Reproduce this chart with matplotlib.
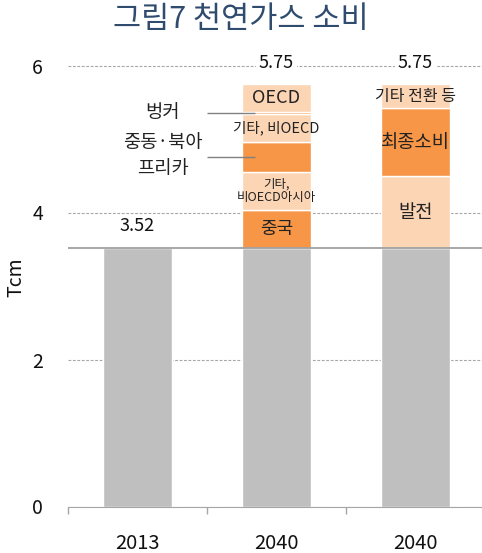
import matplotlib
matplotlib.use("Agg")
import matplotlib.pyplot as plt

plt.rcParams['font.family'] = ['Noto Sans CJK KR', 'DejaVu Sans']

# Natural gas consumption (Tcm)
categories = ["2013", "2040", "2040"]
base_2013 = 3.52

# 2040 increase by region (stacked on the 2013 level)
region_labels = ["중국", "기타,\n비OECD아시아", "", "기타, 비OECD", "", "OECD"]
region_names = ["China", "Other non-OECD Asia", "Middle East & N. Africa",
                "Other non-OECD", "Bunkers", "OECD"]
region_values = [0.52, 0.51, 0.41, 0.38, 0.03, 0.38]

# 2040 increase by sector
sector_labels = ["발전", "최종소비", "기타 전환 등"]
sector_values = [0.97, 0.93, 0.33]

totals = [3.52, 5.75, 5.75]

DARK = "#F79646"
LIGHT = "#FCD5B5"
GRAY = "#BFBFBF"
region_colors = [DARK, LIGHT, DARK, LIGHT, DARK, LIGHT]
sector_colors = [LIGHT, DARK, LIGHT]
region_fs = [13, 9, 12, 10.5, 12, 13]

fig = plt.figure(figsize=(4.82, 5.53), dpi=100)
ax = fig.add_axes([68/482, 46.5/553, 417/482, 441/553])

width = 0.49
x = list(range(len(categories)))

# base level in every column
for xi in x:
    ax.bar(xi, base_2013, width, color=GRAY, edgecolor="white", linewidth=1, zorder=2)

# region stack
bottom = base_2013
for val, col, lab, fs in zip(region_values, region_colors, region_labels, region_fs):
    ax.bar(1, val, width, bottom=bottom, color=col, edgecolor="white", linewidth=1, zorder=2)
    if lab:
        ax.text(1, bottom + val / 2, lab, ha="center", va="center", fontsize=fs,
                color="#222222", zorder=4, linespacing=1.1)
    bottom += val
region_bottoms = [base_2013 + sum(region_values[:i]) for i in range(len(region_values))]

# sector stack
bottom = base_2013
sector_fs = [13.5, 13.5, 11.5]
for val, col, lab, fs in zip(sector_values, sector_colors, sector_labels, sector_fs):
    ax.bar(2, val, width, bottom=bottom, color=col, edgecolor="white", linewidth=1, zorder=2)
    ax.text(2, bottom + val / 2, lab, ha="center", va="center", fontsize=fs,
            color="#222222", zorder=4)
    bottom += val

# totals above the bars
for xi, t in zip(x, totals):
    ax.text(xi, t + 0.29, f"{t:.2f}", ha="center", va="center", fontsize=13,
            color="#111111", zorder=5,
            bbox=dict(boxstyle="square,pad=0.15", fc="white", ec="none"))

# 2013 reference level
ax.axhline(base_2013, color="#A0A0A0", lw=1.3, zorder=3)

# callouts for bunkers and Middle East / North Africa
bunker_y = region_bottoms[4] + region_values[4] / 2
mena_y = region_bottoms[2] + region_values[2] / 2
for yv in (bunker_y, mena_y):
    ax.plot([0.5, 0.845], [yv, yv], color="#808080", lw=1, zorder=4,
            solid_capstyle="butt")
ax.text(0.18, bunker_y, "벙커", ha="center", va="center", fontsize=13.5, color="#222222")
ax.text(0.18, mena_y + 0.2, "중동·북아", ha="center", va="center", fontsize=13.5, color="#222222")
ax.text(0.18, mena_y - 0.15, "프리카", ha="center", va="center", fontsize=13.5, color="#222222")

# axes styling
ax.set_xlim(-0.5, 2.5)
ax.set_ylim(0, 6)
ax.set_yticks([0, 2, 4, 6])
ax.set_yticklabels(["0", "2", "4", "6"])
ax.yaxis.grid(True, color="#A6A6A6", linestyle=(0, (2.5, 1.5)), lw=0.8)
ax.set_axisbelow(True)
ax.tick_params(axis="y", length=0, pad=18, labelsize=14, labelcolor="#111111")
ax.set_xticks(x)
ax.set_xticklabels(categories)
ax.set_xticks([-0.5, 0.5, 1.5, 2.5], minor=True)
ax.tick_params(axis="x", which="major", length=0, pad=19, labelsize=14.5, labelcolor="#111111")
ax.tick_params(axis="x", which="minor", length=5, color="#A6A6A6", width=1)
for s in ("top", "right", "left"):
    ax.spines[s].set_visible(False)
ax.spines["bottom"].set_color("#A6A6A6")
ax.set_ylabel("Tcm", fontsize=14, color="#111111", va="center")
ax.yaxis.set_label_coords(-0.125, 0.52)

fig.text(241/482, 1 - 20/553, "그림7 천연가스 소비", ha="center", va="center",
         fontsize=22, color="#2F4B6E")

fig.savefig("out.png", dpi=100)
